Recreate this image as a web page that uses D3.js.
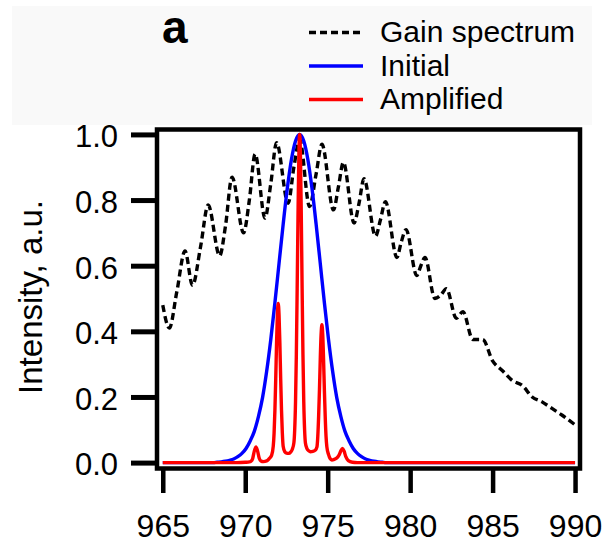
<!DOCTYPE html>
<html>
<head>
<meta charset="utf-8">
<script src="https://cdn.jsdelivr.net/npm/d3@7"></script>
<style>
  html, body { margin: 0; padding: 0; background: #fff; }
  svg { display: block; }
</style>
</head>
<body>
<div id="chart"></div>
<script>
// tick values
const xTicks = [965, 970, 975, 980, 985, 990]
const yTicks = [0, 0.2, 0.4, 0.6, 0.8, 1.0]

// legend / series names
const seriesNames = ['Gain spectrum', 'Initial', 'Amplified']

// gain spectrum [wavelength nm, intensity]
const gain = [
  [965.0, 0.48], [965.4, 0.41], [965.85, 0.52], [966.35, 0.645], [966.8, 0.54],
  [967.3, 0.66], [967.75, 0.785], [968.45, 0.63], [968.8, 0.72], [969.2, 0.87],
  [969.9, 0.70], [970.25, 0.80], [970.6, 0.94], [971.2, 0.745], [971.55, 0.85],
  [971.9, 0.975], [972.6, 0.79], [972.95, 0.90], [973.3, 0.985], [973.9, 0.78],
  [974.3, 0.88], [974.65, 0.97], [975.35, 0.77], [975.65, 0.84], [975.95, 0.915],
  [976.6, 0.73], [976.9, 0.79], [977.2, 0.865], [977.9, 0.69], [978.2, 0.74],
  [978.5, 0.795], [979.2, 0.625], [979.45, 0.67], [979.75, 0.71], [980.4, 0.57],
  [980.65, 0.60], [980.9, 0.625], [981.5, 0.50], [981.85, 0.51], [982.2, 0.53],
  [982.8, 0.44], [983.2, 0.46], [983.8, 0.375], [984.4, 0.375], [985.0, 0.31],
  [985.6, 0.28], [986.2, 0.25], [986.8, 0.235], [987.4, 0.20], [988.0, 0.185],
  [988.6, 0.165], [989.2, 0.145], [990.0, 0.115]
]

// initial pulse spectrum
const initial = [
  [965.0, 0], [967.8, 0], [968.05, 0], [968.3, 0.001], [968.55, 0.002], [968.8, 0.004],
  [969.05, 0.007], [969.3, 0.011], [969.55, 0.018], [969.8, 0.028], [970.05, 0.043],
  [970.3, 0.066], [970.55, 0.095], [970.8, 0.14], [971.05, 0.198], [971.3, 0.278],
  [971.55, 0.375], [971.8, 0.487], [972.05, 0.607], [972.3, 0.726], [972.55, 0.835],
  [972.8, 0.923], [973.05, 0.98], [973.3, 1.0], [973.55, 0.98], [973.8, 0.923],
  [974.05, 0.835], [974.3, 0.726], [974.55, 0.607], [974.8, 0.487], [975.05, 0.375],
  [975.3, 0.278], [975.55, 0.198], [975.8, 0.14], [976.05, 0.095], [976.3, 0.066],
  [976.55, 0.043], [976.8, 0.028], [977.05, 0.018], [977.3, 0.011], [977.55, 0.007],
  [977.8, 0.004], [978.05, 0.002], [978.3, 0.001], [978.55, 0], [978.8, 0], [990.0, 0]
]

// amplified spectrum
const amplified = [
  [965.0, 0], [969.5, 0], [970.0, 0.001], [970.25, 0.002], [970.35, 0.004], [970.45, 0.012],
  [970.55, 0.035], [970.65, 0.048], [970.75, 0.035], [970.85, 0.013], [970.95, 0.005],
  [971.1, 0.003], [971.3, 0.005], [971.45, 0.012], [971.6, 0.022], [971.7, 0.05],
  [971.75, 0.09], [971.8, 0.16], [971.85, 0.255], [971.9, 0.365], [971.95, 0.45],
  [972.0, 0.485], [972.05, 0.45], [972.1, 0.365], [972.15, 0.255], [972.2, 0.16],
  [972.25, 0.09], [972.3, 0.05], [972.4, 0.033], [972.5, 0.029], [972.65, 0.028],
  [972.75, 0.032], [972.85, 0.04], [972.95, 0.06], [973.0, 0.1], [973.05, 0.185],
  [973.1, 0.33], [973.15, 0.53], [973.2, 0.75], [973.25, 0.93], [973.3, 1.0],
  [973.35, 0.93], [973.4, 0.75], [973.45, 0.53], [973.5, 0.33], [973.55, 0.185],
  [973.6, 0.1], [973.65, 0.06], [973.75, 0.042], [973.85, 0.036], [973.95, 0.033],
  [974.1, 0.034], [974.25, 0.038], [974.35, 0.048], [974.4, 0.08], [974.45, 0.14],
  [974.5, 0.22], [974.55, 0.315], [974.6, 0.39], [974.65, 0.42], [974.7, 0.39],
  [974.75, 0.315], [974.8, 0.22], [974.85, 0.14], [974.9, 0.08], [974.95, 0.048],
  [975.05, 0.025], [975.15, 0.012], [975.25, 0.008], [975.4, 0.01], [975.55, 0.014],
  [975.7, 0.024], [975.8, 0.036], [975.9, 0.043], [976.0, 0.034], [976.1, 0.018],
  [976.25, 0.006], [976.5, 0.001], [976.8, 0], [990.0, 0]
]

const width = 604
const height = 544
const font = '"Liberation Sans", Arial, Helvetica, sans-serif'

const svg = d3.select('#chart')
  .append('svg')
  .attr('width', width)
  .attr('height', height)
  .attr('font-family', font)

// faint grey panel behind the header
svg.append('rect')
  .attr('x', 12).attr('y', 6)
  .attr('width', 580).attr('height', 119)
  .attr('fill', '#f9f9f9')

// scales - frame runs a bit past the data range on every side
const x = d3.scaleLinear().domain([964.65, 990.3]).range([157, 580])
const y = d3.scaleLinear().domain([-0.018, 1.015]).range([468.5, 129.5])

const line = d3.line()
  .x(d => x(d[0]))
  .y(d => y(d[1]))
  .curve(d3.curveMonotoneX)

const styles = [
  { color: '#000', width: 3.4, dash: '7,4' },
  { color: '#0000ff', width: 3.4, dash: null },
  { color: '#ff0000', width: 3.4, dash: null }
]
const series = [gain, initial, amplified]

const plot = svg.append('g')
series.forEach((data, i) => {
  plot.append('path')
    .datum(data)
    .attr('fill', 'none')
    .attr('stroke', styles[i].color)
    .attr('stroke-width', styles[i].width)
    .attr('stroke-dasharray', styles[i].dash)
    .attr('stroke-linejoin', 'round')
    .attr('d', line)
})

// x axis
const xAxis = svg.append('g')
  .attr('transform', 'translate(0,468.5)')
  .call(d3.axisBottom(x).tickValues(xTicks).tickSize(24.5).tickPadding(21).tickFormat(d3.format('d')))
xAxis.attr('font-family', font)
xAxis.select('.domain').remove()
xAxis.selectAll('.tick line').attr('stroke', '#000').attr('stroke-width', 4.5)
xAxis.selectAll('.tick text').attr('font-size', 32).attr('fill', '#000')

// y axis
const yAxis = svg.append('g')
  .attr('transform', 'translate(157,0)')
  .call(d3.axisLeft(y).tickValues(yTicks).tickSize(26).tickPadding(13).tickFormat(d3.format('.1f')))
yAxis.attr('font-family', font)
yAxis.select('.domain').remove()
yAxis.selectAll('.tick line').attr('stroke', '#000').attr('stroke-width', 5)
yAxis.selectAll('.tick text').attr('font-size', 31).attr('fill', '#000').attr('dy', '0.4em')

// frame
svg.append('rect')
  .attr('x', 157).attr('y', 129.5)
  .attr('width', 423).attr('height', 339)
  .attr('fill', 'none')
  .attr('stroke', '#000')
  .attr('stroke-width', 4.5)

// y title
svg.append('text')
  .attr('transform', 'translate(41.7,297) rotate(-90)')
  .attr('text-anchor', 'middle')
  .attr('font-size', 33)
  .attr('fill', '#000')
  .text('Intensity, a.u.')

// panel letter
svg.append('text')
  .attr('x', 162).attr('y', 43)
  .attr('font-size', 46)
  .attr('font-weight', 'bold')
  .attr('fill', '#000')
  .text('a')

// legend
const legend = svg.append('g')
seriesNames.forEach((name, i) => {
  const base = 42 + i * 33.5
  legend.append('line')
    .attr('x1', 309).attr('x2', 363)
    .attr('y1', base - 9.5).attr('y2', base - 9.5)
    .attr('stroke', styles[i].color)
    .attr('stroke-width', styles[i].width)
    .attr('stroke-dasharray', styles[i].dash)
  legend.append('text')
    .attr('x', 380).attr('y', base)
    .attr('font-size', 30)
    .attr('fill', '#000')
    .text(name)
})
</script>
</body>
</html>
